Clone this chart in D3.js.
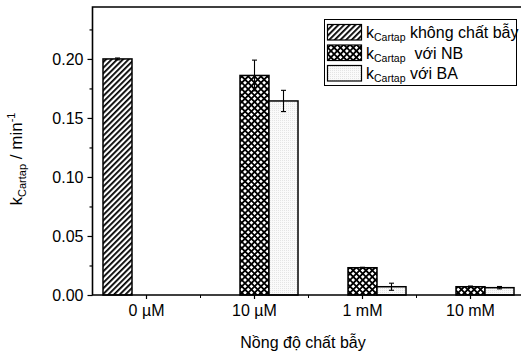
<!DOCTYPE html>
<html><head><meta charset="utf-8">
<script src="https://cdn.jsdelivr.net/npm/d3@7"></script>
<style>body{margin:0;background:#fff}svg{display:block}text{font-family:"Liberation Sans",Arial,sans-serif;fill:#000}</style>
</head><body>
<script>
const categories = ["0 µM", "10 µM", "1 mM", "10 mM"];
const seriesNames = ["không chất bẫy", " với NB", "với BA"];
const noTrap = [0.200, null, null, null];
const noTrapErr = [0.0008, null, null, null];
const withNB = [null, 0.186, 0.0231, 0.0070];
const withNBErr = [null, 0.013, 0.0004, 0.0006];
const withBA = [null, 0.1644, 0.0070, 0.0062];
const withBAErr = [null, 0.009, 0.003, 0.001];
const yMajor = [0, 0.05, 0.10, 0.15, 0.20];
const yMinor = [0.025, 0.075, 0.125, 0.175, 0.225];

const W = 521, H = 354;
const L = 92.5, T = 7, B = 295, R = 524.5;
const svg = d3.select("body").append("svg").attr("width", W).attr("height", H);
const defs = svg.append("defs");
// diagonal hatch
const p1 = defs.append("pattern").attr("id","hatch").attr("patternUnits","userSpaceOnUse").attr("width",4).attr("height",4).attr("patternTransform","rotate(45)");
p1.append("rect").attr("width",4).attr("height",4).attr("fill","#fff");
p1.append("rect").attr("x",0).attr("width",1.8).attr("height",4).attr("fill","#000");
// cross hatch
const p2 = defs.append("pattern").attr("id","cross").attr("patternUnits","userSpaceOnUse").attr("width",4.5).attr("height",4.5).attr("patternTransform","rotate(45)");
p2.append("rect").attr("width",4.5).attr("height",4.5).attr("fill","#000");
p2.append("rect").attr("x",0.9).attr("y",0.9).attr("width",2.7).attr("height",2.7).attr("fill","#fff");
// light dots
const p3 = defs.append("pattern").attr("id","dots").attr("patternUnits","userSpaceOnUse").attr("width",2).attr("height",2);
p3.append("rect").attr("width",2).attr("height",2).attr("fill","#fafafa");
p3.append("rect").attr("width",1).attr("height",1).attr("fill","#e4e4e4");
const fills = ["url(#hatch)","url(#cross)","url(#dots)"];

const x = d3.scaleBand().domain(categories).range([L, R]).padding(0);
const y = d3.scaleLinear().domain([0, 0.244]).range([B, T]);
const bw = 29;
const series = [[noTrap, noTrapErr],[withNB, withNBErr],[withBA, withBAErr]];
const offsets = [-1, 0, 1];

// bars
series.forEach(([vals, errs], si) => {
  const g = svg.append("g");
  categories.forEach((c, ci) => {
    const v = vals[ci];
    if (v == null) return;
    const cx = x(c) + x.bandwidth()/2 + offsets[si]*bw;
    g.append("rect").attr("x", cx - bw/2).attr("y", y(v)).attr("width", bw).attr("height", y(0)-y(v))
      .attr("fill", fills[si]).attr("stroke","#000").attr("stroke-width",1.5);
  });
});
// error bars
series.forEach(([vals, errs], si) => {
  categories.forEach((c, ci) => {
    const v = vals[ci], e = errs[ci];
    if (v == null || e == null) return;
    const cx = x(c) + x.bandwidth()/2 + offsets[si]*bw;
    const g = svg.append("g").attr("stroke","#000").attr("stroke-width",1.1);
    g.append("line").attr("x1",cx).attr("x2",cx).attr("y1",y(v+e)).attr("y2",y(v-e));
    g.append("line").attr("x1",cx-2.5).attr("x2",cx+2.5).attr("y1",y(v+e)).attr("y2",y(v+e));
    g.append("line").attr("x1",cx-2.5).attr("x2",cx+2.5).attr("y1",y(v-e)).attr("y2",y(v-e));
  });
});

// y axis
const yAx = svg.append("g").attr("transform",`translate(${L},0)`)
  .call(d3.axisLeft(y).tickValues(yMajor).tickFormat(d3.format(".2f")).tickSize(5).tickPadding(4));
yAx.select(".domain").remove();
yAx.selectAll("text").style("font-size","16px");
svg.append("g").attr("transform",`translate(${L},0)`)
  .call(d3.axisLeft(y).tickValues(yMinor).tickFormat("").tickSize(3)).select(".domain").remove();
// x axis
const xAx = svg.append("g").attr("transform",`translate(0,${B})`)
  .call(d3.axisBottom(x).tickSize(4).tickPadding(6));
xAx.select(".domain").remove();
xAx.selectAll("text").style("font-size","16px");
const xMinor = categories.slice(1).map(c => x(c));
svg.append("g").selectAll("line").data(xMinor).join("line")
  .attr("x1",d=>d).attr("x2",d=>d).attr("y1",B).attr("y2",B+3).attr("stroke","#000");
svg.selectAll(".tick line").attr("stroke-width",1.2);

// frame
svg.append("path").attr("d",`M${R},${T}H${L}V${B}H${R}`).attr("fill","none").attr("stroke","#000").attr("stroke-width",1.6);

// axis titles
svg.append("text").attr("x",303).attr("y",348).attr("text-anchor","middle").style("font-size","16px").text("Nồng độ chất bẫy");
const yt = svg.append("text").attr("transform","translate(22,159) rotate(-90)").attr("text-anchor","middle").style("font-size","17px");
yt.append("tspan").text("k");
yt.append("tspan").attr("dy",4).style("font-size","11px").text("Cartap");
yt.append("tspan").attr("dy",-4).text(" / min");
yt.append("tspan").attr("dy",-7).style("font-size","11px").text("-1");

// legend
const lg = svg.append("g");
lg.append("rect").attr("x",324.5).attr("y",19.5).attr("width",192).attr("height",66).attr("fill","#fff").attr("stroke","#000").attr("stroke-width",1);
seriesNames.forEach((n, i) => {
  const yy = 24.5 + i*20.5;
  lg.append("rect").attr("x",327.5).attr("y",yy).attr("width",34).attr("height",15.5).attr("fill",fills[i]).attr("stroke","#000").attr("stroke-width",1.2);
  const t = lg.append("text").attr("x",366).attr("y",yy+13.5).style("font-size","16px");
  t.append("tspan").text("k");
  t.append("tspan").attr("dy",3).style("font-size","10.5px").text("Cartap");
  t.append("tspan").attr("dy",-3).attr("xml:space","preserve").style("white-space","pre").text(" " + n);
});
</script>
</body></html>
